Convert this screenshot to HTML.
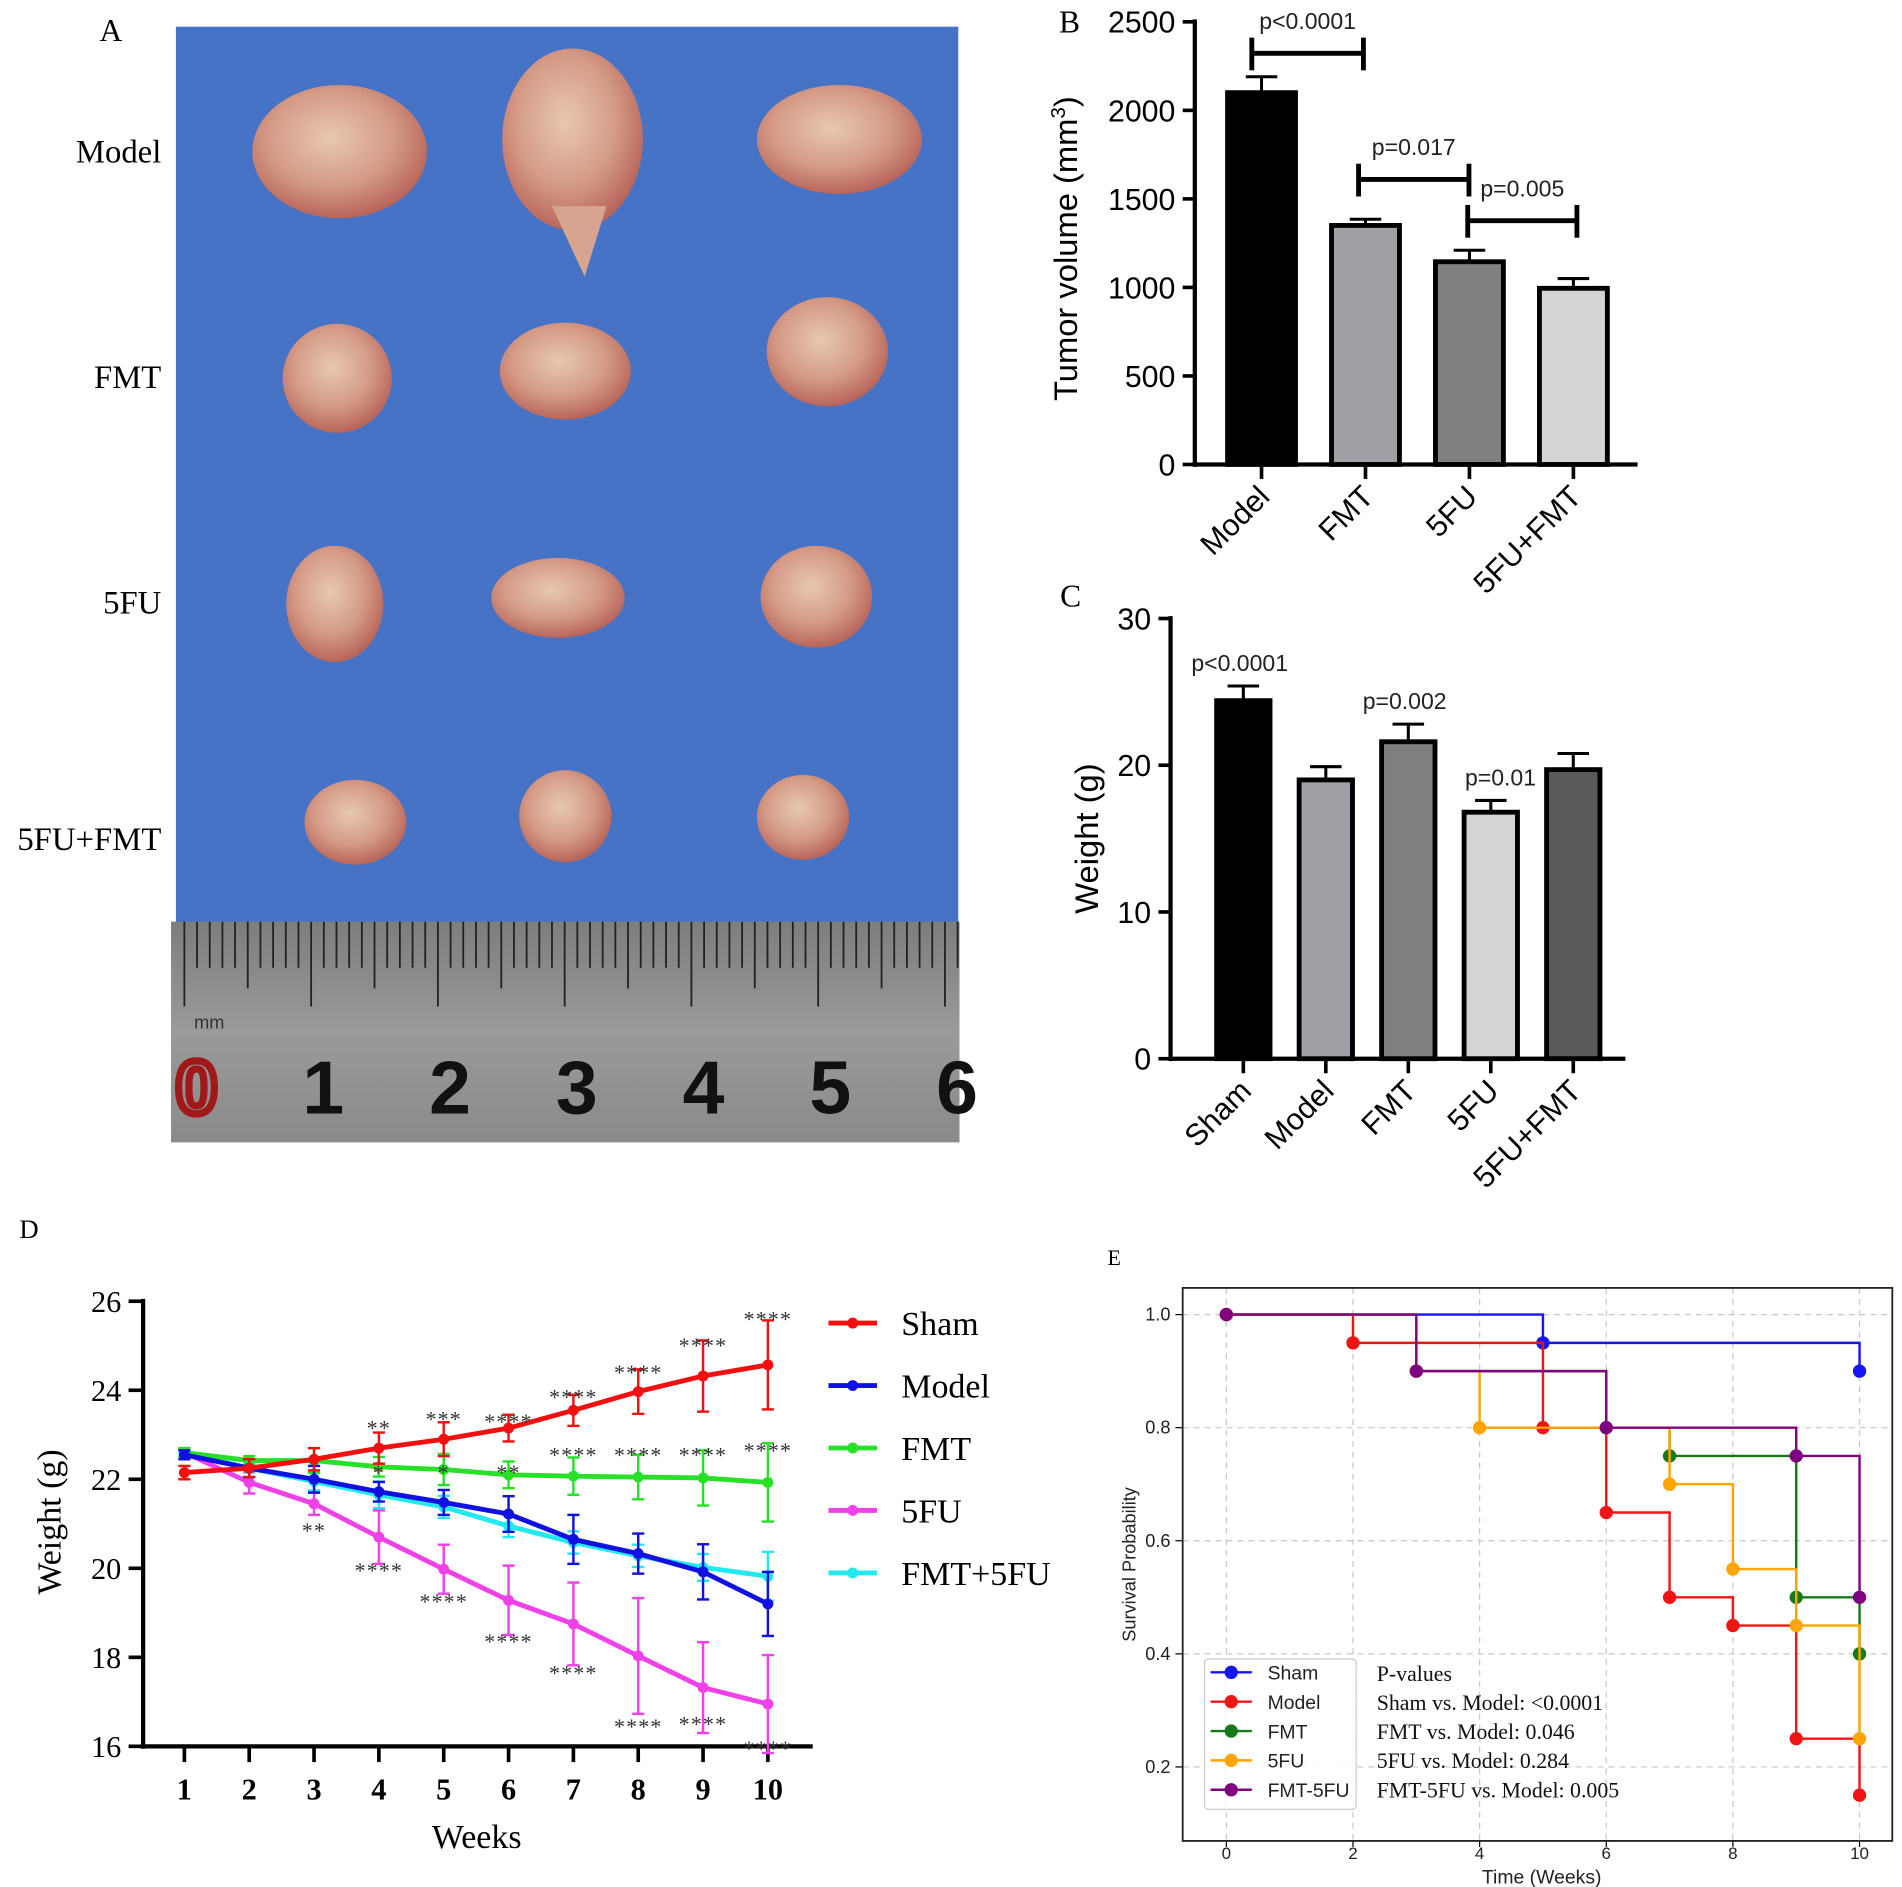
<!DOCTYPE html>
<html><head><meta charset="utf-8"><style>
html,body{margin:0;padding:0;background:#fff}
svg{display:block}
text{font-family:"Liberation Sans",sans-serif}
.serif{font-family:"Liberation Serif",serif}
</style></head><body>
<svg id="fig" width="1902" height="1887" viewBox="0 0 1568 1556" preserveAspectRatio="none" xmlns="http://www.w3.org/2000/svg">
<defs>
<linearGradient id="rul" x1="0" y1="0" x2="0" y2="1"><stop offset="0" stop-color="#7d7d7d"/><stop offset="0.5" stop-color="#9a9a9a"/><stop offset="1" stop-color="#8a8a8a"/></linearGradient>
<radialGradient id="tum" cx="0.45" cy="0.4" r="0.6"><stop offset="0" stop-color="#e8c8b0"/><stop offset="0.6" stop-color="#d49a86"/><stop offset="1" stop-color="#b8655a"/></radialGradient>
</defs>
<g id="panelA">
<text class="serif" x="82" y="34" font-size="26">A</text>
<rect x="145" y="22" width="645" height="740" fill="#4673c6"/>
<rect x="141" y="760" width="650" height="182" fill="url(#rul)"/>
<g id="ruler-ticks"></g>
<text x="160" y="848" font-size="15" fill="#333">mm</text>
<g id="tumors"></g>
<text class="serif" x="133" y="134" font-size="27" text-anchor="end">Model</text>
<text class="serif" x="133" y="320" font-size="27" text-anchor="end">FMT</text>
<text class="serif" x="133" y="506" font-size="27" text-anchor="end">5FU</text>
<text class="serif" x="133" y="701" font-size="27" text-anchor="end">5FU+FMT</text>
</g>
<g id="panelB"></g>
<g id="panelC"></g>
<g id="panelD"></g>
<g id="panelE"></g>
</svg>
<script>
// ---------- Panel B data ----------
const bCats = ["Model","FMT","5FU","5FU+FMT"];
const bVals = [2100,1350,1145,995];
const bErr = [90,35,65,55];
const bTicks = [0,500,1000,1500,2000,2500];
// ---------- Panel C data ----------
const cCats = ["Sham","Model","FMT","5FU","5FU+FMT"];
const cVals = [24.4,19.0,21.6,16.8,19.7];
const cErr = [1.0,0.9,1.2,0.8,1.1];
const cTicks = [0,10,20,30];
// ---------- Panel D data ----------
const dWeeks = [1,2,3,4,5,6,7,8,9,10];
const dSeriesNames = ["Sham","Model","FMT","5FU","FMT+5FU"];
const dSham = [22.15,22.25,22.45,22.7,22.9,23.15,23.55,23.97,24.32,24.57];
const dShamErr = [0.15,0.2,0.25,0.35,0.38,0.3,0.35,0.5,0.8,1.0];
const dModel = [22.55,22.25,22.0,21.72,21.48,21.22,20.65,20.33,19.92,19.2];
const dModelErr = [0.1,0.2,0.3,0.22,0.28,0.4,0.55,0.45,0.62,0.72];
const dFMT = [22.6,22.42,22.42,22.28,22.22,22.1,22.07,22.05,22.03,21.93];
const dFMTErr = [0.1,0.1,0.28,0.22,0.35,0.3,0.42,0.5,0.62,0.88];
const d5FU = [22.6,21.93,21.45,20.7,19.98,19.28,18.75,18.03,17.32,16.95];
const d5FUErr = [0.1,0.25,0.25,0.6,0.55,0.78,0.93,1.3,1.02,1.1];
const dCombo = [22.6,22.25,21.95,21.65,21.38,20.95,20.58,20.28,20.02,19.82];
const dComboErr = [0.05,0.1,0.2,0.3,0.25,0.25,0.25,0.25,0.3,0.55];
const dTicks = [16,18,20,22,24,26];
const dStarWeeks = [4,5,6,7,8,9,10, 7,8,9,10, 3,4,5,6,7,8,9,10, 4,5,6];
const dStarVals = [23.2,23.4,23.35,23.9,24.45,25.05,25.65, 22.6,22.6,22.6,22.7, 20.9,20.0,19.3,18.4,17.7,16.5,16.55,16.0, 22.2,22.2,22.2];
const dStarText = ["**","***","****","****","****","****","****", "****","****","****","****", "**","****","****","****","****","****","****","****", "*","*","**"];
// ---------- Panel E data ----------
const eNames = ["Sham","Model","FMT","5FU","FMT-5FU"];
const eShamT=[0,5,10], eShamS=[1,0.95,0.9];
const eModelT=[0,2,5,6,7,8,9,10], eModelS=[1,0.95,0.8,0.65,0.5,0.45,0.25,0.15];
const eFMTT=[0,3,6,7,9,10], eFMTS=[1,0.9,0.8,0.75,0.5,0.4];
const e5FUT=[0,3,4,7,8,9,10], e5FUS=[1,0.9,0.8,0.7,0.55,0.45,0.25];
const eComboT=[0,3,6,9,10], eComboS=[1,0.9,0.8,0.75,0.5];
const eXTicks=[0,2,4,6,8,10];
const eYTicks=[0.2,0.4,0.6,0.8,1.0];
const ePvals=["P-values","Sham vs. Model: <0.0001","FMT vs. Model: 0.046","5FU vs. Model: 0.284","FMT-5FU vs. Model: 0.005"];

const NS="http://www.w3.org/2000/svg";
function mk(parent,tag,attrs,txt){const e=document.createElementNS(NS,tag);for(const k in attrs)e.setAttribute(k,attrs[k]);if(txt!==undefined)e.textContent=txt;parent.appendChild(e);return e;}

// ---------- Panel A ----------
(function(){
  const rt=document.getElementById('ruler-ticks');
  for(let i=0;i<=62;i++){
    const x=152+i*10.45; if(x>790)break;
    const l=i%10===0?70:(i%5===0?55:38);
    const t=mk(rt,'line',{x1:x,y1:760,x2:x,y2:760+l,stroke:'#222','stroke-width':1.5});
    
    
  }
  const nums=[0,1,2,3,4,5,6];
  nums.forEach((n,i)=>{
    const t=mk(rt,'text',{x:162+i*104.5,y:918,'font-size':62,'font-weight':'bold','text-anchor':'middle',fill:i===0?'none':'#111',stroke:i===0?'#a01818':'none','stroke-width':i===0?6:0},String(n));
    
    
  });
  const tg=document.getElementById('tumors');
  const blobs=[[280,125,72,55],[472,115,58,75],[692,115,68,45],[278,312,45,45],[466,306,54,40],[682,290,50,45],[276,498,40,48],[460,493,55,33],[673,492,46,42],[293,678,42,35],[466,673,38,38],[662,674,38,35]];
  blobs.forEach(b=>{
    const e=mk(tg,'ellipse',{cx:b[0],cy:b[1],rx:b[2],ry:b[3],fill:'url(#tum)'});
    
    
  });
  const tail=mk(tg,'polygon',{points:'455,170 500,170 482,228',fill:'#d7a58f'});
  
  
})();

// ---------- Bar chart helper ----------
function barChart(g,o){
  const ys=v=>o.y0-(v-o.min)/(o.max-o.min)*(o.y0-o.y1);
  mk(g,'line',{x1:o.x0,y1:o.y1-2,x2:o.x0,y2:o.y0+2,stroke:'#000','stroke-width':3.5});
  mk(g,'line',{x1:o.x0,y1:o.y0,x2:o.xEnd,y2:o.y0,stroke:'#000','stroke-width':3.5});
  o.ticks.forEach(t=>{
    mk(g,'line',{x1:o.x0-10,y1:ys(t),x2:o.x0,y2:ys(t),stroke:'#000','stroke-width':3});
    const lb=mk(g,'text',{x:o.x0-16,y:ys(t)+9,'font-size':25,'text-anchor':'end'},String(t));
    
    
  });
  o.cats.forEach((c,i)=>{
    const cx=o.cx0+i*o.step, v=o.vals[i], e=o.err[i];
    mk(g,'line',{x1:cx,y1:ys(v),x2:cx,y2:ys(v+e),stroke:'#000','stroke-width':2.5});
    mk(g,'line',{x1:cx-13,y1:ys(v+e),x2:cx+13,y2:ys(v+e),stroke:'#000','stroke-width':2.5});
    const r=mk(g,'rect',{x:cx-o.bw/2,y:ys(v),width:o.bw,height:o.y0-ys(v),fill:o.colors[i],stroke:'#000','stroke-width':4});
    
    
    mk(g,'line',{x1:cx,y1:o.y0,x2:cx,y2:o.y0+12,stroke:'#000','stroke-width':3});
    const lb=mk(g,'text',{x:cx+8,y:o.y0+28,'font-size':25,'text-anchor':'end',transform:`rotate(-45 ${cx+8} ${o.y0+28})`},c);
    
    
  });
  const yt=mk(g,'text',{x:0,y:0,'font-size':27,'text-anchor':'middle',transform:`translate(${o.titleX},${(o.y0+o.y1)/2}) rotate(-90)`},o.title);
  
  
  return ys;
}
// Panel B
(function(){
  const g=document.getElementById('panelB');
  const lb=mk(g,'text',{x:873,y:27,'font-size':26,class:'serif'},'B');
  
  
  const ys=barChart(g,{x0:985,xEnd:1350,y0:383,y1:18,min:0,max:2500,ticks:bTicks,cats:bCats,vals:bVals,err:bErr,cx0:1040,step:85.7,bw:56,colors:['#000','#a0a0a4','#808080','#d4d4d4'],title:'',titleX:885});
  const t=mk(g,'text',{x:0,y:0,'font-size':27,'text-anchor':'middle',transform:'translate(888,205) rotate(-90)'});
  t.innerHTML='Tumor volume (mm<tspan dy="-10" font-size="17">3</tspan><tspan dy="10">)</tspan>';
  
  
  const br=[[1032,1124,44,'p<0.0001'],[1120,1211,148,'p=0.017'],[1210,1300,182,'p=0.005']];
  br.forEach(b=>{
    const bg=mk(g,'g',{});
    
    
    mk(bg,'line',{x1:b[0],y1:b[2],x2:b[1],y2:b[2],stroke:'#000','stroke-width':4});
    mk(bg,'line',{x1:b[0],y1:b[2]-13,x2:b[0],y2:b[2]+14,stroke:'#000','stroke-width':4});
    mk(bg,'line',{x1:b[1],y1:b[2]-13,x2:b[1],y2:b[2]+14,stroke:'#000','stroke-width':4});
    mk(bg,'text',{x:(b[0]+b[1])/2,y:b[2]-20,'font-size':19,'text-anchor':'middle',fill:'#222'},b[3]);
  });
})();
// Panel C
(function(){
  const g=document.getElementById('panelC');
  const lb=mk(g,'text',{x:874,y:500,'font-size':26,class:'serif'},'C');
  
  
  const ys=barChart(g,{x0:965,xEnd:1340,y0:873,y1:510,min:0,max:30,ticks:cTicks,cats:cCats,vals:cVals,err:cErr,cx0:1025,step:68,bw:44,colors:['#000','#a0a0a4','#7f7f7f','#d4d4d4','#595959'],title:'Weight (g)',titleX:905});
  const ps=[[1022,25.6,'p<0.0001'],[1158,23.0,'p=0.002'],[1237,17.8,'p=0.01']];
  ps.forEach(p=>{
    const t=mk(g,'text',{x:p[0],y:ys(p[1])-10,'font-size':19,'text-anchor':'middle',fill:'#222'},p[2]);
    
    
  });
})();

// ---------- Panel D ----------
(function(){
  const g=document.getElementById('panelD');
  const x=w=>152+(w-1)*53.45, y=v=>1440-(v-16)/10*367;
  const lb=mk(g,'text',{x:16,y:1021,'font-size':22,class:'serif'},'D');
  
  
  mk(g,'line',{x1:118,y1:1071,x2:118,y2:1442,stroke:'#000','stroke-width':3.5});
  mk(g,'line',{x1:116,y1:1440,x2:670,y2:1440,stroke:'#000','stroke-width':3.5});
  dTicks.forEach(t=>{
    mk(g,'line',{x1:106,y1:y(t),x2:118,y2:y(t),stroke:'#000','stroke-width':3});
    const l=mk(g,'text',{x:100,y:y(t)+9,'font-size':25,'text-anchor':'end',class:'serif'},String(t));
    
    
  });
  dWeeks.forEach(w=>{
    mk(g,'line',{x1:x(w),y1:1440,x2:x(w),y2:1453,stroke:'#000','stroke-width':3});
    const l=mk(g,'text',{x:x(w),y:1484,'font-size':25,'font-weight':'bold','text-anchor':'middle',class:'serif'},String(w));
    
    
  });
  const xt=mk(g,'text',{x:393,y:1524,'font-size':28,'text-anchor':'middle',class:'serif'},'Weeks');
  
  
  const yt=mk(g,'text',{x:0,y:0,'font-size':28,'text-anchor':'middle',class:'serif',transform:'translate(50,1255) rotate(-90)'},'Weight (g)');
  
  
  const series=[[dCombo,dComboErr,'#22e8f0'],[d5FU,d5FUErr,'#f040e8'],[dFMT,dFMTErr,'#28e028'],[dModel,dModelErr,'#1010e0'],[dSham,dShamErr,'#f01010']];
  const names=["FMT+5FU","5FU","FMT","Model","Sham"];
  series.forEach((s,si)=>{
    const sg=mk(g,'g',{});
    
    
    s[0].forEach((v,i)=>{
      const w=dWeeks[i],e=s[1][i];
      mk(sg,'line',{x1:x(w),y1:y(v-e),x2:x(w),y2:y(v+e),stroke:s[2],'stroke-width':2});
      mk(sg,'line',{x1:x(w)-5,y1:y(v-e),x2:x(w)+5,y2:y(v-e),stroke:s[2],'stroke-width':2});
      mk(sg,'line',{x1:x(w)-5,y1:y(v+e),x2:x(w)+5,y2:y(v+e),stroke:s[2],'stroke-width':2});
    });
    mk(sg,'polyline',{points:s[0].map((v,i)=>x(dWeeks[i])+','+y(v)).join(' '),fill:'none',stroke:s[2],'stroke-width':4});
    s[0].forEach((v,i)=>{
      const p=mk(sg,'circle',{cx:x(dWeeks[i]),cy:y(v),r:4.5,fill:s[2]});
      
      
    });
  });
  dStarText.forEach((s,i)=>{
    const t=mk(g,'text',{x:x(dStarWeeks[i]),y:y(dStarVals[i])+8,'font-size':18,'text-anchor':'middle',fill:'#333',class:'serif','letter-spacing':'1'},s);
    
    
  });
  const lc=['#f01010','#1010e0','#28e028','#f040e8','#22e8f0'];
  dSeriesNames.forEach((n,i)=>{
    const ly=1091+i*51.5;
    const le=mk(g,'g',{});
    
    
    mk(le,'line',{x1:683,y1:ly,x2:723,y2:ly,stroke:lc[i],'stroke-width':4});
    mk(le,'circle',{cx:703,cy:ly,r:4.5,fill:lc[i]});
    mk(le,'text',{x:743,y:ly+10,'font-size':28,class:'serif'},n);
  });
})();

// ---------- Panel E ----------
(function(){
  const g=document.getElementById('panelE');
  const x=t=>1011+t*52.2, y=s=>1084+(1-s)/0.2*93.25;
  const lb=mk(g,'text',{x:913,y:1043,'font-size':18,class:'serif'},'E');
  
  
  eXTicks.forEach(t=>{
    mk(g,'line',{x1:x(t),y1:1062,x2:x(t),y2:1518,stroke:'#c8c8c8','stroke-width':1,'stroke-dasharray':'5,4'});
    mk(g,'line',{x1:x(t),y1:1518,x2:x(t),y2:1523,stroke:'#000','stroke-width':1});
    const l=mk(g,'text',{x:x(t),y:1533,'font-size':14,'text-anchor':'middle',fill:'#222'},String(t));
    
    
  });
  eYTicks.forEach(t=>{
    mk(g,'line',{x1:975,y1:y(t),x2:1560,y2:y(t),stroke:'#c8c8c8','stroke-width':1,'stroke-dasharray':'5,4'});
    mk(g,'line',{x1:969,y1:y(t),x2:975,y2:y(t),stroke:'#000','stroke-width':1});
    const l=mk(g,'text',{x:965,y:y(t)+5,'font-size':15,'text-anchor':'end',fill:'#222'},t.toFixed(1));
    
    
  });
  mk(g,'rect',{x:975,y:1062,width:585,height:456,fill:'none',stroke:'#222','stroke-width':1.5});
  const xt=mk(g,'text',{x:1271,y:1553,'font-size':16,'text-anchor':'middle',fill:'#222'},'Time (Weeks)');
  
  
  const yt=mk(g,'text',{x:0,y:0,'font-size':15,'text-anchor':'middle',fill:'#222',transform:'translate(936,1290) rotate(-90)'},'Survival Probability');
  
  
  const cols=['#1515f5','#f01515','#157a15','#ffa500','#800080'];
  const curves=[[eShamT,eShamS],[eModelT,eModelS],[eFMTT,eFMTS],[e5FUT,e5FUS],[eComboT,eComboS]];
  curves.forEach((c,ci)=>{
    const sg=mk(g,'g',{});
    
    
    let pts=[];
    c[0].forEach((t,i)=>{ if(i>0) pts.push(x(t)+','+y(c[1][i-1])); pts.push(x(t)+','+y(c[1][i])); });
    mk(sg,'polyline',{points:pts.join(' '),fill:'none',stroke:cols[ci],'stroke-width':2});
    c[0].forEach((t,i)=>{
      const p=mk(sg,'circle',{cx:x(t),cy:y(c[1][i]),r:5.5,fill:cols[ci]});
      
      
    });
  });
  const lg=mk(g,'g',{});
  
  
  mk(lg,'rect',{x:993,y:1368,width:125,height:124,rx:3,fill:'#fff','fill-opacity':0.85,stroke:'#ccc'});
  eNames.forEach((n,i)=>{
    const ly=1379+i*24.2;
    const le=mk(lg,'g',{});
    
    
    mk(le,'line',{x1:998,y1:ly,x2:1032,y2:ly,stroke:cols[i],'stroke-width':2});
    mk(le,'circle',{cx:1015,cy:ly,r:5.5,fill:cols[i]});
    mk(le,'text',{x:1045,y:ly+6,'font-size':16,fill:'#222'},n);
  });
  ePvals.forEach((p,i)=>{
    const t=mk(g,'text',{x:1135,y:1386+i*24,'font-size':18,fill:'#111',class:'serif'},p);
    
    
  });
})();
</script>
</body></html>
